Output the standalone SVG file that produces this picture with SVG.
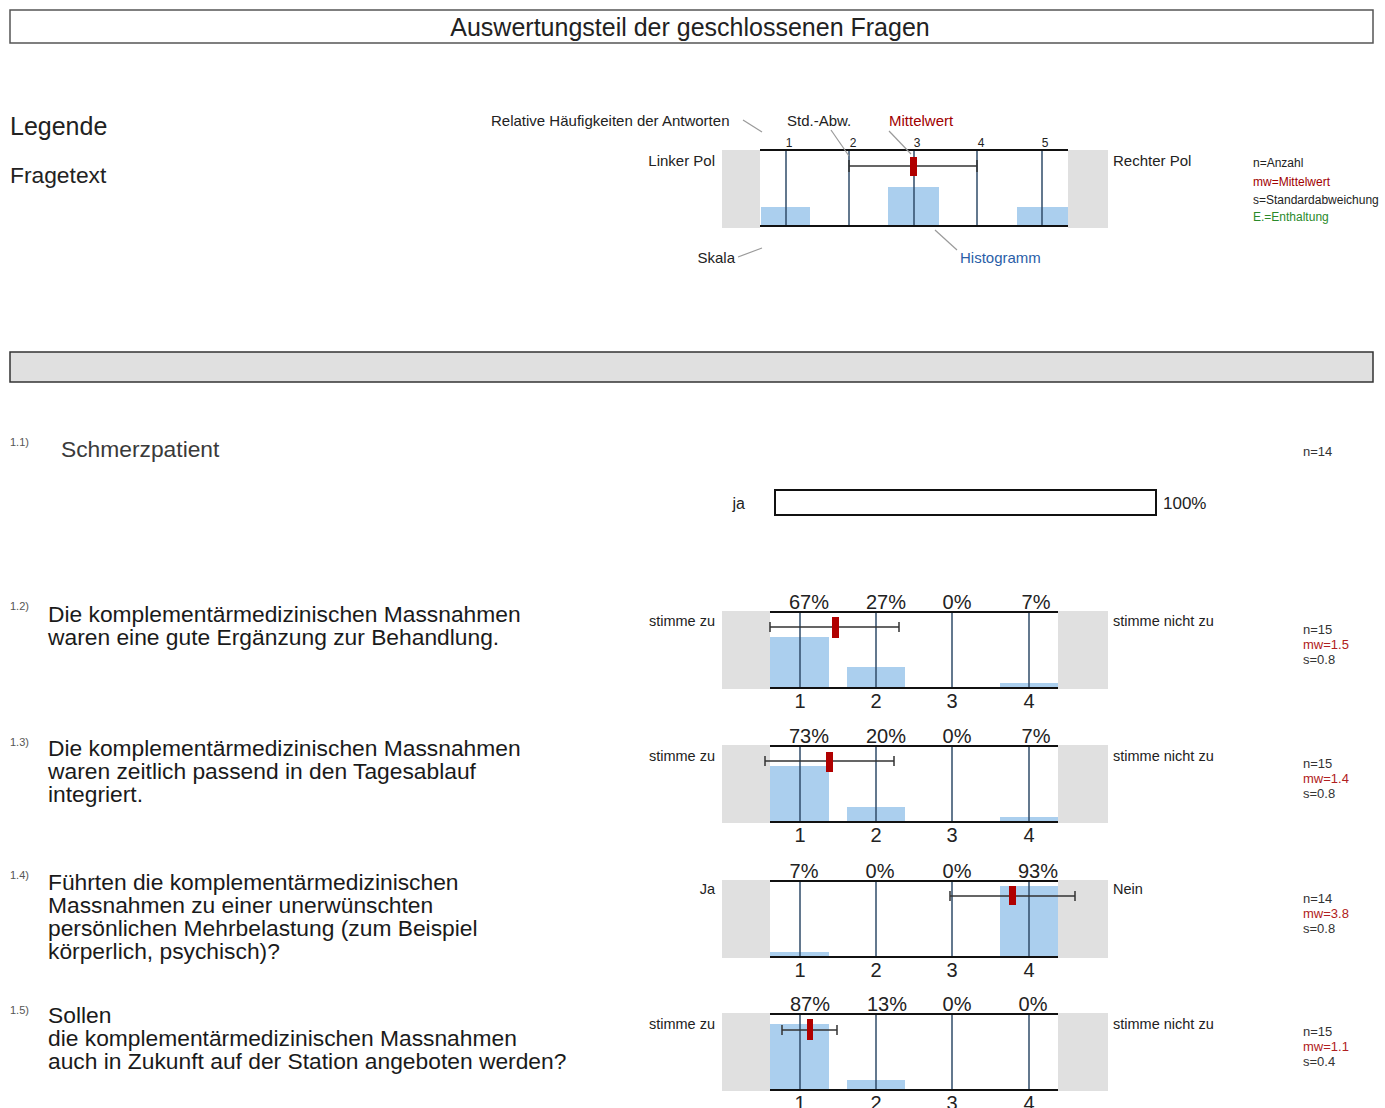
<svg xmlns="http://www.w3.org/2000/svg" width="1385" height="1108" viewBox="0 0 1385 1108">
<style>
text{font-family:"Liberation Sans",Arial,sans-serif;fill:#222}
.gray{fill:#e0e0e0}
.bar{fill:#abcfee}
.grid{stroke:#2f4b68;stroke-width:1.5}
.axis{stroke:#111;stroke-width:2}
.sd{stroke:#333;stroke-width:1.5;fill:none}
.mw{fill:#b00000}
.lead{stroke:#9a9a9a;stroke-width:1.2}
.q{font-size:22.8px;fill:#1a1a1a}
.qn{font-size:11px;fill:#555}
.pct{font-size:20px;text-anchor:middle;fill:#222}
.num{font-size:20px;text-anchor:middle;fill:#222}
.pole{font-size:14.5px}
.st{font-size:13px;fill:#333}
.red{fill:#b02020}
.lg{font-size:15px}
</style>
<rect width="1385" height="1108" fill="#fff"/>

<g id="title">
<rect x="10" y="10" width="1363" height="33" fill="#fff" stroke="#555" stroke-width="1.5"/>
<text x="690" y="36" font-size="25px" text-anchor="middle">Auswertungsteil der geschlossenen Fragen</text>
</g>

<g id="legend">
<text x="10" y="135" font-size="25px">Legende</text>
<text x="10" y="183" font-size="22.8px">Fragetext</text>
<rect class="gray" x="722" y="150" width="38" height="78"/>
<rect class="gray" x="1068" y="150" width="40" height="78"/>
<rect class="bar" x="761" y="207" width="49" height="19"/>
<rect class="bar" x="888" y="187" width="51" height="39"/>
<rect class="bar" x="1017" y="207" width="51" height="19"/>
<g class="grid">
<line x1="786" y1="150" x2="786" y2="226"/><line x1="849" y1="150" x2="849" y2="226"/><line x1="914" y1="150" x2="914" y2="226"/><line x1="977" y1="150" x2="977" y2="226"/><line x1="1042" y1="150" x2="1042" y2="226"/>
</g>
<line class="axis" x1="760" y1="150" x2="1068" y2="150"/>
<line class="axis" x1="760" y1="226" x2="1068" y2="226"/>
<path class="sd" d="M849 166H977M849 160V172M977 160V172"/>
<rect class="mw" x="910" y="157" width="7" height="19"/>
<g font-size="12px">
<text x="789" y="147" text-anchor="middle">1</text><text x="853" y="147" text-anchor="middle">2</text><text x="917" y="147" text-anchor="middle">3</text><text x="981" y="147" text-anchor="middle">4</text><text x="1045" y="147" text-anchor="middle">5</text>
</g>
<text class="lg" x="491" y="126">Relative Häufigkeiten der Antworten</text>
<text class="lg" x="787" y="126">Std.-Abw.</text>
<text class="lg" x="889" y="126" style="fill:#a00000">Mittelwert</text>
<text class="lg" x="715" y="166" text-anchor="end">Linker Pol</text>
<text class="lg" x="1113" y="166">Rechter Pol</text>
<text class="lg" x="735" y="263" text-anchor="end">Skala</text>
<text class="lg" x="960" y="263" style="fill:#2a5ea8">Histogramm</text>
<g font-size="12px">
<text x="1253" y="167">n=Anzahl</text>
<text x="1253" y="186" style="fill:#a00000">mw=Mittelwert</text>
<text x="1253" y="204">s=Standardabweichung</text>
<text x="1253" y="221" style="fill:#2a8a2a">E.=Enthaltung</text>
</g>
</g>

<g id="connectors">
<line class="lead" x1="743" y1="120" x2="762" y2="132"/>
<line class="lead" x1="831" y1="130" x2="849" y2="156"/>
<line class="lead" x1="889" y1="131" x2="911" y2="154"/>
<line class="lead" x1="738" y1="257" x2="762" y2="248"/>
<line class="lead" x1="935" y1="230" x2="957" y2="250"/>
</g>

<g id="section-bar">
<rect x="10" y="352" width="1363" height="30" fill="#e0e0e0" stroke="#333" stroke-width="1.5"/>
</g>

<g id="q1-1">
<text class="qn" x="10" y="446">1.1)</text>
<text x="61" y="457" font-size="22.8px" style="fill:#3a3a3a">Schmerzpatient</text>
<text class="st" x="1303" y="456">n=14</text>
<text x="745" y="509" font-size="16px" text-anchor="end">ja</text>
<rect x="775" y="490" width="381" height="25" fill="#fff" stroke="#111" stroke-width="2"/>
<text x="1163" y="509" font-size="17px">100%</text>
</g>

<g id="q1-2">
<text class="qn" x="10" y="610">1.2)</text>
<text class="q" x="48" y="622">Die komplementärmedizinischen Massnahmen</text>
<text class="q" x="48" y="645">waren eine gute Ergänzung zur Behandlung.</text>
<rect class="gray" x="722" y="611" width="48" height="78"/>
<rect class="gray" x="1058" y="611" width="50" height="78"/>
<rect class="bar" x="770" y="637" width="59" height="51"/>
<rect class="bar" x="847" y="667" width="58" height="21"/>
<rect class="bar" x="1000" y="683" width="58" height="5"/>
<g class="grid"><line x1="800" y1="612" x2="800" y2="688"/><line x1="876" y1="612" x2="876" y2="688"/><line x1="952" y1="612" x2="952" y2="688"/><line x1="1029" y1="612" x2="1029" y2="688"/></g>
<line class="axis" x1="770" y1="612" x2="1058" y2="612"/>
<line class="axis" x1="770" y1="688" x2="1058" y2="688"/>
<path class="sd" d="M770 627H899M770 622V632M899 622V632"/>
<rect class="mw" x="832" y="617" width="7" height="21"/>
<text class="pct" x="809" y="609">67%</text><text class="pct" x="886" y="609">27%</text><text class="pct" x="957" y="609">0%</text><text class="pct" x="1036" y="609">7%</text>
<text class="num" x="800" y="708">1</text><text class="num" x="876" y="708">2</text><text class="num" x="952" y="708">3</text><text class="num" x="1029" y="708">4</text>
<text class="pole" x="715" y="626" text-anchor="end">stimme zu</text>
<text class="pole" x="1113" y="626">stimme nicht zu</text>
<text class="st" x="1303" y="634">n=15</text><text class="st red" x="1303" y="649">mw=1.5</text><text class="st" x="1303" y="664">s=0.8</text>
</g>

<g id="q1-3">
<text class="qn" x="10" y="746">1.3)</text>
<text class="q" x="48" y="756">Die komplementärmedizinischen Massnahmen</text>
<text class="q" x="48" y="779">waren zeitlich passend in den Tagesablauf</text>
<text class="q" x="48" y="802">integriert.</text>
<rect class="gray" x="722" y="745" width="48" height="78"/>
<rect class="gray" x="1058" y="745" width="50" height="78"/>
<rect class="bar" x="770" y="766" width="59" height="56"/>
<rect class="bar" x="847" y="807" width="58" height="15"/>
<rect class="bar" x="1000" y="817" width="58" height="5"/>
<g class="grid"><line x1="800" y1="746" x2="800" y2="822"/><line x1="876" y1="746" x2="876" y2="822"/><line x1="952" y1="746" x2="952" y2="822"/><line x1="1029" y1="746" x2="1029" y2="822"/></g>
<line class="axis" x1="770" y1="746" x2="1058" y2="746"/>
<line class="axis" x1="770" y1="822" x2="1058" y2="822"/>
<path class="sd" d="M765 761H894M765 756V766M894 756V766"/>
<rect class="mw" x="826" y="752" width="7" height="20"/>
<text class="pct" x="809" y="743">73%</text><text class="pct" x="886" y="743">20%</text><text class="pct" x="957" y="743">0%</text><text class="pct" x="1036" y="743">7%</text>
<text class="num" x="800" y="842">1</text><text class="num" x="876" y="842">2</text><text class="num" x="952" y="842">3</text><text class="num" x="1029" y="842">4</text>
<text class="pole" x="715" y="761" text-anchor="end">stimme zu</text>
<text class="pole" x="1113" y="761">stimme nicht zu</text>
<text class="st" x="1303" y="768">n=15</text><text class="st red" x="1303" y="783">mw=1.4</text><text class="st" x="1303" y="798">s=0.8</text>
</g>

<g id="q1-4">
<text class="qn" x="10" y="879">1.4)</text>
<text class="q" x="48" y="890">Führten die komplementärmedizinischen</text>
<text class="q" x="48" y="913">Massnahmen zu einer unerwünschten</text>
<text class="q" x="48" y="936">persönlichen Mehrbelastung (zum Beispiel</text>
<text class="q" x="48" y="959">körperlich, psychisch)?</text>
<rect class="gray" x="722" y="880" width="48" height="78"/>
<rect class="gray" x="1058" y="880" width="50" height="78"/>
<rect class="bar" x="770" y="952" width="59" height="5"/>
<rect class="bar" x="1000" y="886" width="58" height="71"/>
<g class="grid"><line x1="800" y1="881" x2="800" y2="957"/><line x1="876" y1="881" x2="876" y2="957"/><line x1="952" y1="881" x2="952" y2="957"/><line x1="1029" y1="881" x2="1029" y2="957"/></g>
<line class="axis" x1="770" y1="881" x2="1058" y2="881"/>
<line class="axis" x1="770" y1="957" x2="1058" y2="957"/>
<path class="sd" d="M950 896H1075M950 891V901M1075 891V901"/>
<rect class="mw" x="1009" y="886" width="7" height="19"/>
<text class="pct" x="804" y="878">7%</text><text class="pct" x="880" y="878">0%</text><text class="pct" x="957" y="878">0%</text><text class="pct" x="1038" y="878">93%</text>
<text class="num" x="800" y="977">1</text><text class="num" x="876" y="977">2</text><text class="num" x="952" y="977">3</text><text class="num" x="1029" y="977">4</text>
<text class="pole" x="715" y="894" text-anchor="end">Ja</text>
<text class="pole" x="1113" y="894">Nein</text>
<text class="st" x="1303" y="903">n=14</text><text class="st red" x="1303" y="918">mw=3.8</text><text class="st" x="1303" y="933">s=0.8</text>
</g>

<g id="q1-5">
<text class="qn" x="10" y="1014">1.5)</text>
<text class="q" x="48" y="1023">Sollen</text>
<text class="q" x="48" y="1046">die komplementärmedizinischen Massnahmen</text>
<text class="q" x="48" y="1069">auch in Zukunft auf der Station angeboten werden?</text>
<rect class="gray" x="722" y="1013" width="48" height="78"/>
<rect class="gray" x="1058" y="1013" width="50" height="78"/>
<rect class="bar" x="770" y="1024" width="59" height="66"/>
<rect class="bar" x="847" y="1080" width="58" height="10"/>
<g class="grid"><line x1="800" y1="1014" x2="800" y2="1090"/><line x1="876" y1="1014" x2="876" y2="1090"/><line x1="952" y1="1014" x2="952" y2="1090"/><line x1="1029" y1="1014" x2="1029" y2="1090"/></g>
<line class="axis" x1="770" y1="1014" x2="1058" y2="1014"/>
<line class="axis" x1="770" y1="1090" x2="1058" y2="1090"/>
<path class="sd" d="M782 1030H837M782 1025V1035M837 1025V1035"/>
<rect class="mw" x="807" y="1019" width="6" height="21"/>
<text class="pct" x="810" y="1011">87%</text><text class="pct" x="887" y="1011">13%</text><text class="pct" x="957" y="1011">0%</text><text class="pct" x="1033" y="1011">0%</text>
<text class="num" x="800" y="1110">1</text><text class="num" x="876" y="1110">2</text><text class="num" x="952" y="1110">3</text><text class="num" x="1029" y="1110">4</text>
<text class="pole" x="715" y="1029" text-anchor="end">stimme zu</text>
<text class="pole" x="1113" y="1029">stimme nicht zu</text>
<text class="st" x="1303" y="1036">n=15</text><text class="st red" x="1303" y="1051">mw=1.1</text><text class="st" x="1303" y="1066">s=0.4</text>
</g>
</svg>
